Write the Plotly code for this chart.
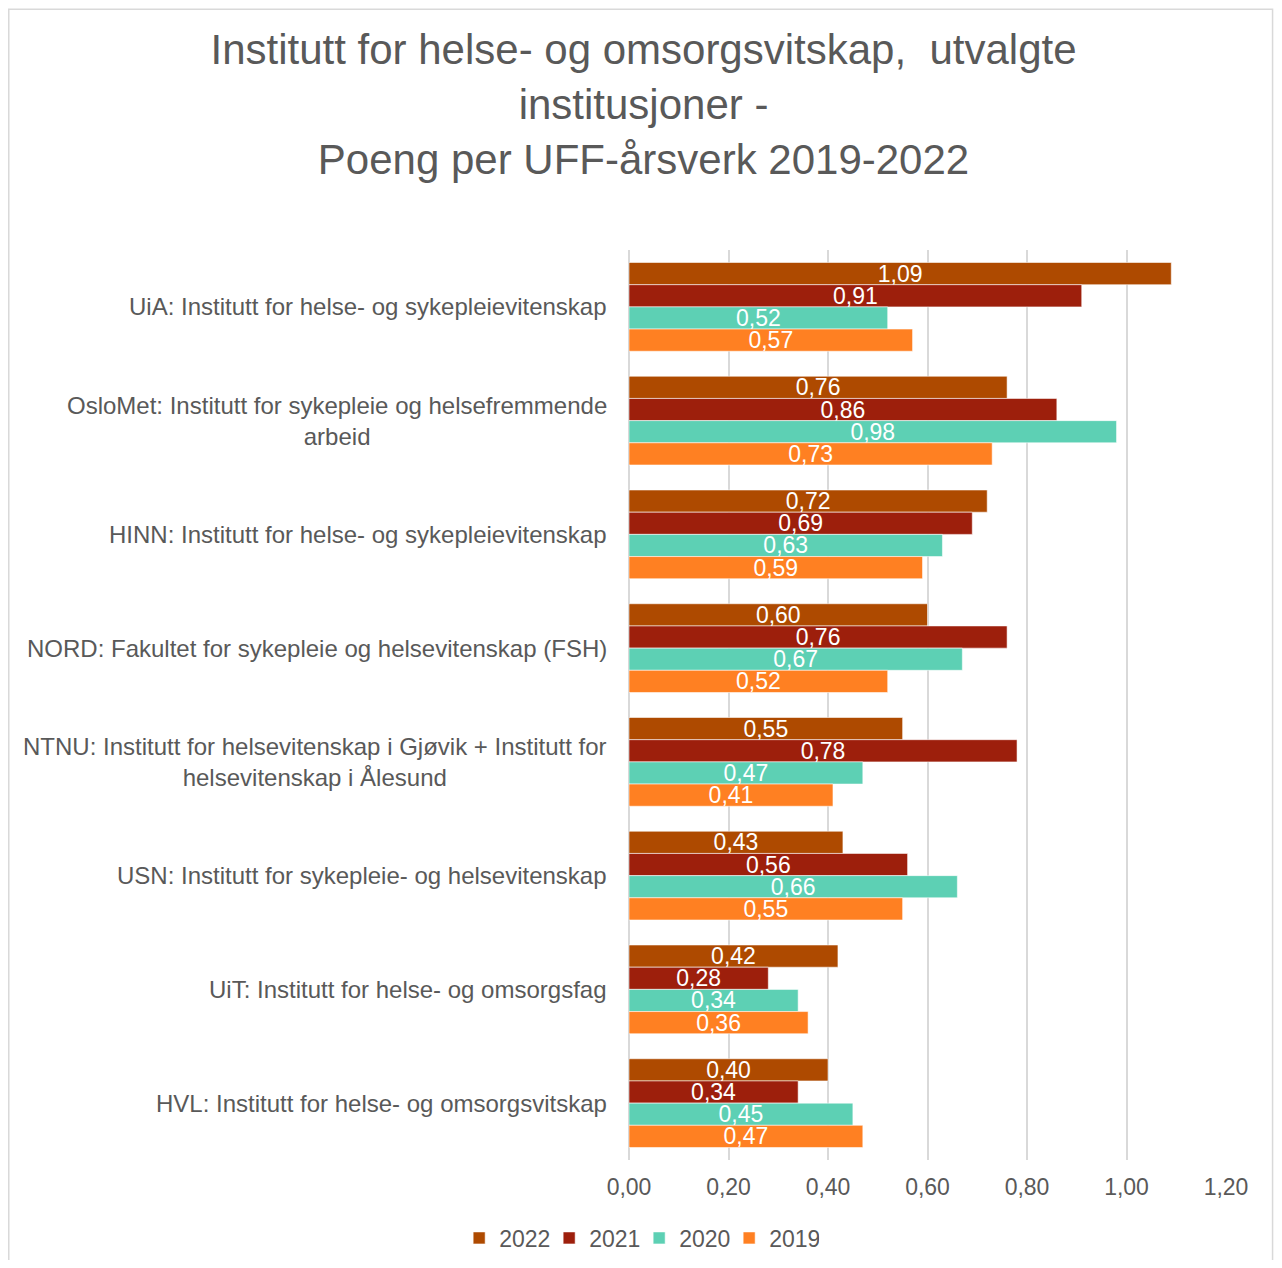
import plotly.graph_objects as go

categories = [
    "UiA: Institutt for helse- og sykepleievitenskap",
    "OsloMet: Institutt for sykepleie og helsefremmende<br>arbeid",
    "HINN: Institutt for helse- og sykepleievitenskap",
    "NORD: Fakultet for sykepleie og helsevitenskap (FSH)",
    "NTNU: Institutt for helsevitenskap i Gjøvik + Institutt for<br>helsevitenskap i Ålesund",
    "USN: Institutt for sykepleie- og helsevitenskap",
    "UiT: Institutt for helse- og omsorgsfag",
    "HVL: Institutt for helse- og omsorgsvitskap",
]
series_names = ["2022", "2021", "2020", "2019"]
values_2022 = [1.09, 0.76, 0.72, 0.60, 0.55, 0.43, 0.42, 0.40]
values_2021 = [0.91, 0.86, 0.69, 0.76, 0.78, 0.56, 0.28, 0.34]
values_2020 = [0.52, 0.98, 0.63, 0.67, 0.47, 0.66, 0.34, 0.45]
values_2019 = [0.57, 0.73, 0.59, 0.52, 0.41, 0.55, 0.36, 0.47]
x_ticks = [0.0, 0.2, 0.4, 0.6, 0.8, 1.0, 1.2]

colors = ["#AE4A00", "#9D1F0C", "#5DD0B4", "#FF8022"]
all_values = [values_2022, values_2021, values_2020, values_2019]

FONT = "Liberation Sans, Arial, sans-serif"
GRAY = "#595959"

fig = go.Figure()
for name, vals, col in zip(series_names, all_values, colors):
    fig.add_trace(go.Bar(
        y=categories, x=vals, name=name, orientation="h",
        marker=dict(color=col, line=dict(color="rgba(255,255,255,0.55)", width=1)),
        texttemplate="%{x:.2f}", textposition="inside", insidetextanchor="middle",
        constraintext="none",
        textfont=dict(color="white", size=23, family=FONT),
        hoverinfo="skip",
    ))

for c in categories:
    fig.add_annotation(
        x=0, xref="paper", y=c, yref="y", text=c, showarrow=False,
        xanchor="right", yanchor="middle", align="center", xshift=-20,
        font=dict(size=24, color=GRAY, family=FONT),
    )

# chart-area frame (left, top, right sides; bottom lies off the page)
fig.add_shape(type="path", xref="paper", yref="paper",
              path="M -1.0389,-0.2 L -1.0389,1.2645 L 1.0780,1.2645 L 1.0780,-0.2",
              line=dict(color="#D9D9D9", width=1.5), fillcolor="rgba(0,0,0,0)", layer="below")

fig.update_layout(
    width=1266, height=1252,
    margin=dict(l=621, r=48, t=242, b=100, autoexpand=False),
    paper_bgcolor="white", plot_bgcolor="white",
    separators=", ",
    barmode="group", bargap=0.22, bargroupgap=0,
    font=dict(family=FONT, color=GRAY),
    title=dict(
        text="Institutt for helse- og omsorgsvitskap,  utvalgte<br>institusjoner -<br>Poeng per UFF-årsverk 2019-2022",
        x=0.502, xanchor="center", y=0.955, yanchor="top",
        font=dict(size=42, color=GRAY, family=FONT),
    ),
    xaxis=dict(
        range=[0, 1.2], tickvals=x_ticks, tickformat=".2f",
        showgrid=True, gridcolor="#D9D9D9", gridwidth=1.5,
        zeroline=True, zerolinecolor="#D9D9D9", zerolinewidth=1.5,
        showline=False, ticks="", ticklabelstandoff=11,
        tickfont=dict(size=23, color=GRAY, family=FONT),
    ),
    yaxis=dict(
        type="category", autorange="reversed", showticklabels=False,
        showgrid=False, zeroline=False, showline=False, ticks="",
    ),
    legend=dict(
        orientation="h", x=0.017, xanchor="center", y=-0.0857, yanchor="middle",
        font=dict(size=23, color=GRAY, family=FONT),
        traceorder="normal", entrywidth=45, entrywidthmode="pixels",
    ),
)

fig.write_html("out.html")
